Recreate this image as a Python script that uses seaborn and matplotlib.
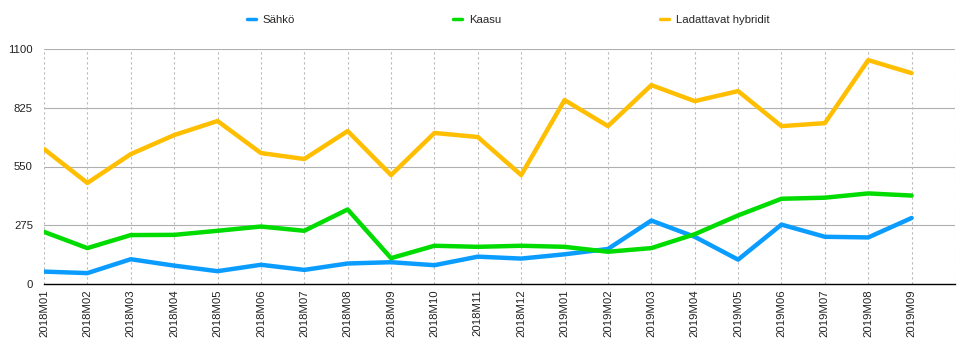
import pandas as pd
import matplotlib.pyplot as plt
import seaborn as sns

# ---------------------------------------------------------------------
# DATA
# ---------------------------------------------------------------------
months = ["2018M01", "2018M02", "2018M03", "2018M04", "2018M05", "2018M06",
          "2018M07", "2018M08", "2018M09", "2018M10", "2018M11", "2018M12",
          "2019M01", "2019M02", "2019M03", "2019M04", "2019M05", "2019M06",
          "2019M07", "2019M08", "2019M09"]

sahko = [58, 51, 116, 86, 60, 90, 66, 96, 102, 88, 128, 119,
         139, 164, 297, 221, 114, 278, 221, 218, 309]
kaasu = [244, 168, 229, 230, 249, 269, 249, 349, 121, 179, 174, 179,
         174, 151, 168, 233, 321, 399, 404, 424, 414]
hybridit = [632, 473, 608, 697, 763, 613, 585, 716, 510, 707, 688, 510,
            861, 739, 931, 856, 903, 739, 753, 1048, 987]

series_names = ["Sähkö", "Kaasu", "Ladattavat hybridit"]
y_ticks = [0, 275, 550, 825, 1100]

df = pd.DataFrame({
    "month": months * 3,
    "value": sahko + kaasu + hybridit,
    "series": [series_names[0]] * len(months) + [series_names[1]] * len(months)
              + [series_names[2]] * len(months),
})

# ---------------------------------------------------------------------
# PLOT
# ---------------------------------------------------------------------
sns.set_style("white")
plt.rcParams["font.family"] = ["Liberation Sans", "DejaVu Sans"]

COLORS = ["#0a9dff", "#00dc00", "#ffbf00"]
FS = 8.2

fig = plt.figure(figsize=(9.63, 3.57), dpi=100)
ax = fig.add_axes([44 / 963, 1 - 284 / 357, (955 - 44) / 963, (284 - 49) / 357])

sns.lineplot(data=df, x="month", y="value", hue="series", palette=COLORS,
             linewidth=3.2, ax=ax, sort=False)

ax.set_xlim(0, len(months))
ax.set_ylim(0, 1100)
ax.set_yticks(y_ticks)
ax.set_yticklabels([str(v) for v in y_ticks], fontsize=FS, color="#222222")
ax.set_xticks(range(len(months)))
ax.set_xticklabels(months, rotation=90, fontsize=FS, color="#222222")
ax.tick_params(axis="y", length=0, pad=8)
ax.tick_params(axis="x", length=0, pad=4)
ax.set_xlabel("")
ax.set_ylabel("")

# grid: solid horizontal, dotted vertical
for v in y_ticks[1:]:
    ax.axhline(v, color="#b0b0b0", linewidth=0.8, zorder=0)
for i in range(len(months) + 1):
    ax.axvline(i, color="#b8b8b8", linewidth=0.8, linestyle=(0, (2, 2.5)), zorder=0)

for s in ["top", "right", "left"]:
    ax.spines[s].set_visible(False)
ax.spines["bottom"].set_color("black")
ax.spines["bottom"].set_linewidth(1.0)
ax.spines["bottom"].set_zorder(5)

leg = ax.legend(loc="center", bbox_to_anchor=(508 / 963, (357 - 20) / 357),
                bbox_transform=fig.transFigure, ncol=3, frameon=False,
                fontsize=FS, handlelength=0.8, handletextpad=0.6,
                columnspacing=13.9)
for line in leg.get_lines():
    line.set_linewidth(2.5)

plt.savefig("out.png", dpi=100)
